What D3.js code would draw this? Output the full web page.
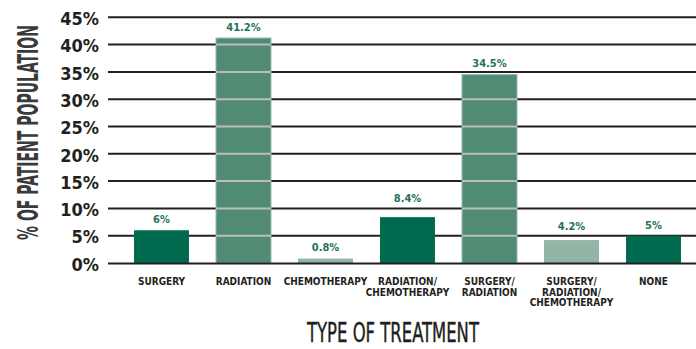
<!DOCTYPE html>
<html><head><meta charset="utf-8">
<script src="https://cdn.jsdelivr.net/npm/d3@7"></script>
<style>
html,body{margin:0;padding:0;background:#fff;}
svg{display:block;}
</style></head>
<body>
<svg id="c" width="696" height="349"></svg>
<script>
const categories = ["SURGERY","RADIATION","CHEMOTHERAPY","RADIATION/\nCHEMOTHERAPY","SURGERY/\nRADIATION","SURGERY/\nRADIATION/\nCHEMOTHERAPY","NONE"];
const values = [6, 41.2, 0.8, 8.4, 34.5, 4.2, 5];
const valueLabels = ["6%","41.2%","0.8%","8.4%","34.5%","4.2%","5%"];
const shades = ["dark","medium","light","dark","medium","light","dark"];
const yTicks = [0,5,10,15,20,25,30,35,40,45];
const yTitle = "% OF PATIENT POPULATION";
const xTitle = "TYPE OF TREATMENT";

const fill = {dark:"#006a4e", medium:"#528b74", light:"#93b5a5"};
const narrow = "'Liberation Sans Narrow','Arial Narrow','DejaVu Sans Condensed',sans-serif";

const svg = d3.select("#c");
const y = d3.scaleLinear().domain([0,45]).range([263,17.3]);
const x = d3.scaleBand().domain(categories).range([120.5,694.5]).paddingInner(0.33).paddingOuter(0.165);

// gridlines
svg.append("g").selectAll("line").data(yTicks.filter(t=>t>0)).join("line")
  .attr("x1",108).attr("x2",696)
  .attr("y1",d=>y(d)).attr("y2",d=>y(d))
  .attr("stroke","#231f20").attr("stroke-width",2);

// y tick labels
const yAxis = d3.axisLeft(y).tickValues(yTicks).tickFormat(d=>d+"%").tickSize(0).tickPadding(0);
const ya = svg.append("g").attr("transform","translate(99,0)").call(yAxis);
ya.select(".domain").remove();
ya.selectAll("text").attr("font-family",narrow).attr("font-weight","bold")
  .attr("font-size",18).attr("fill","#231f20").attr("dy","0.4em");

// bars
const data = categories.map((c,i)=>({c, v:values[i], l:valueLabels[i], s:shades[i]}));
svg.append("g").selectAll("rect").data(data).join("rect")
  .attr("x",d=>x(d.c)).attr("width",x.bandwidth())
  .attr("y",d=>y(d.v)).attr("height",d=>y(0)-y(d.v))
  .attr("fill",d=>fill[d.s])
  .attr("stroke",d=>d.s==="medium"?"#8fb8a6":"none").attr("stroke-width",1);

// light gridlines across medium bars
data.filter(d=>d.s==="medium").forEach(d=>{
  svg.append("g").selectAll("line").data(yTicks.filter(t=>t>0 && t<d.v)).join("line")
    .attr("x1",x(d.c)).attr("x2",x(d.c)+x.bandwidth())
    .attr("y1",t=>y(t)).attr("y2",t=>y(t))
    .attr("stroke","#bdbdbd").attr("stroke-width",2);
});

// baseline
svg.append("line").attr("x1",108).attr("x2",696).attr("y1",y(0)+0.5).attr("y2",y(0)+0.5)
  .attr("stroke","#231f20").attr("stroke-width",2);

// value labels (nudged above a gridline they would collide with)
function labelY(v){
  let c = y(v) - 11;
  const near = yTicks.map(t=>y(t)).find(g=>Math.abs(g-c)<8);
  if (near !== undefined) c = near - 10;
  return c;
}
svg.append("g").selectAll("text").data(data).join("text")
  .attr("x",d=>x(d.c)+x.bandwidth()/2).attr("y",d=>labelY(d.v)).attr("dy","0.35em")
  .attr("text-anchor","middle").attr("font-family",narrow).attr("font-weight","bold")
  .attr("font-size",11).attr("fill","#1f7357").text(d=>d.l);

// x category labels
const xl = svg.append("g").selectAll("text").data(categories).join("text")
  .attr("x",d=>x(d)+x.bandwidth()/2).attr("y",285)
  .attr("text-anchor","middle").attr("font-family",narrow).attr("font-weight","bold")
  .attr("font-size",10).attr("fill","#231f20");
xl.each(function(d){
  const t = d3.select(this);
  d.split("\n").forEach((line,i)=>{
    t.append("tspan").attr("x",x(d)+x.bandwidth()/2).attr("dy",i===0?0:10.7).text(line);
  });
});

// fit helper: horizontal squeeze to a target length
function fitText(g, target){
  const t = g.select("text");
  const w = t.node().getComputedTextLength();
  t.attr("transform", `scale(${Math.min(1, target / w)},1)`);
}

// y title
const yt = svg.append("g").attr("transform","translate(38,132.5) rotate(-90)");
yt.append("text").attr("text-anchor","middle").attr("font-family",narrow).attr("font-weight","bold").attr("font-size",28)
  .attr("fill","#3a3a3a").text(yTitle);
fitText(yt, 215);

// x title
const xt = svg.append("g").attr("transform","translate(393,342)");
xt.append("text").attr("text-anchor","middle").attr("font-family",narrow).attr("font-size",26)
  .attr("fill","#231f20").attr("stroke","#231f20").attr("stroke-width",0.4).text(xTitle);
fitText(xt, 172);
</script>
</body></html>
